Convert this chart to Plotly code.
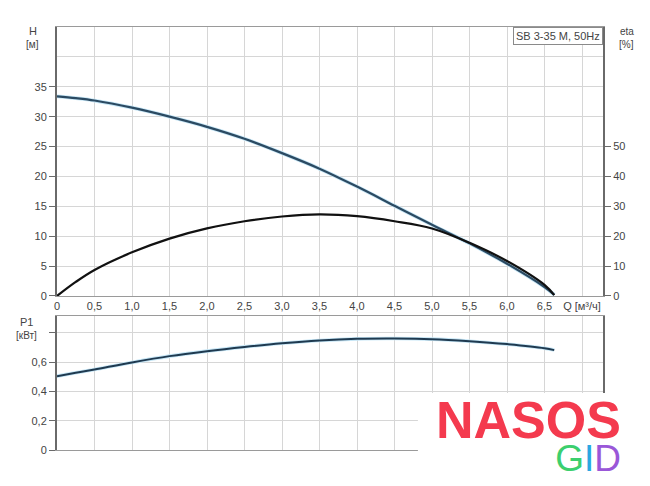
import plotly.graph_objects as go

# ---- data ----
q = [0, 0.25, 0.5, 1.0, 1.5, 2.0, 2.5, 3.0, 3.5, 4.0, 4.5, 5.0, 5.5, 6.0, 6.5, 6.63]
head_m = [33.4, 33.1, 32.7, 31.5, 30.0, 28.3, 26.3, 23.9, 21.3, 18.3, 15.1, 11.9, 8.8, 5.4, 1.5, 0.2]
eta_pct = [0, 4.7, 8.7, 14.6, 19.2, 22.6, 25.0, 26.6, 27.3, 26.7, 25.0, 22.6, 17.8, 11.7, 3.7, 0.3]
p1_kw = [0.504, 0.527, 0.55, 0.598, 0.641, 0.675, 0.704, 0.729, 0.748, 0.759, 0.761, 0.757, 0.743,
         0.723, 0.695, 0.682]

x_tickvals = [0, 0.5, 1.0, 1.5, 2.0, 2.5, 3.0, 3.5, 4.0, 4.5, 5.0, 5.5, 6.0, 6.5, 7.0]
x_ticktext = ["0", "0,5", "1,0", "1,5", "2,0", "2,5", "3,0", "3,5", "4,0", "4,5",
              "5,0", "5,5", "6,0", "6,5", "Q [м³/ч]"]
h_tickvals = [0, 5, 10, 15, 20, 25, 30, 35]
h_ticktext = ["0", "5", "10", "15", "20", "25", "30", "35"]
eta_tickvals = [0, 10, 20, 30, 40, 50]
eta_ticktext = ["0", "10", "20", "30", "40", "50"]
p_tickvals = [0, 0.2, 0.4, 0.6, 0.8]
p_ticktext = ["0", "0,2", "0,4", "0,6", ""]

FONT = "Liberation Sans, Arial, sans-serif"
GRID = "#d6d6d6"
AXIS = "#6a6a6a"
TXT = "#444444"

fig = go.Figure()

# light halo under H curve
fig.add_trace(go.Scatter(x=q, y=head_m, mode="lines", line=dict(color="#c6e6f6", width=3.8, shape="spline"),
                         xaxis="x", yaxis="y", hoverinfo="skip", showlegend=False))
fig.add_trace(go.Scatter(x=q, y=head_m, mode="lines", line=dict(color="#2b4a62", width=2.2, shape="spline"),
                         xaxis="x", yaxis="y", name="H", showlegend=False))
fig.add_trace(go.Scatter(x=q, y=eta_pct, mode="lines", line=dict(color="#111111", width=2.2, shape="spline"),
                         xaxis="x", yaxis="y2", name="eta", showlegend=False))
fig.add_trace(go.Scatter(x=q, y=p1_kw, mode="lines", line=dict(color="#c6e6f6", width=3.6, shape="spline"),
                         xaxis="x2", yaxis="y3", hoverinfo="skip", showlegend=False))
fig.add_trace(go.Scatter(x=q, y=p1_kw, mode="lines", line=dict(color="#1f3a50", width=2, shape="spline"),
                         xaxis="x2", yaxis="y3", name="P1", showlegend=False))

top_dom = [0.3641, 1.0]
bot_dom = [0.0, 0.3168]

fig.update_layout(
    width=650, height=486,
    # page body adds 8px offset; margins compensate so the plot lands where the reference has it
    margin=dict(l=49, r=55, t=19, b=44, autoexpand=False),
    paper_bgcolor="white", plot_bgcolor="white",
    font=dict(family=FONT, size=11, color=TXT),
    showlegend=False,
    xaxis=dict(domain=[0, 1], anchor="y", range=[0, 7.28], tickmode="array",
               tickvals=x_tickvals, ticktext=x_ticktext, ticks="", showgrid=True,
               gridcolor=GRID, gridwidth=1, showline=True, linecolor="#9a9a9a",
               linewidth=1, mirror=True, zeroline=False, automargin=False,
               tickfont=dict(size=11, color=TXT)),
    yaxis=dict(domain=top_dom, anchor="x", range=[0, 45], tickmode="array",
               tickvals=h_tickvals, ticktext=h_ticktext, ticks="outside", ticklen=6,
               tickcolor=AXIS, showgrid=True, gridcolor=GRID, showline=True,
               linecolor=AXIS, linewidth=2, zeroline=False, automargin=False,
               minor=dict(tickmode="array", tickvals=[40], showgrid=True, gridcolor=GRID, ticks=""),
               tickfont=dict(size=11, color=TXT)),
    yaxis2=dict(overlaying="y", anchor="x", side="right", range=[0, 90], tickmode="array",
                tickvals=eta_tickvals, ticktext=eta_ticktext, ticks="outside", ticklen=6,
                tickcolor=AXIS, showgrid=False, showline=True, linecolor=AXIS, linewidth=2,
                zeroline=False, automargin=False, tickfont=dict(size=11, color=TXT)),
    xaxis2=dict(domain=[0, 1], anchor="y3", range=[0, 7.28], tickmode="array",
                tickvals=x_tickvals, showticklabels=False, ticks="", showgrid=True,
                gridcolor=GRID, showline=True, linecolor="#9a9a9a", mirror=True,
                zeroline=False, automargin=False),
    yaxis3=dict(domain=bot_dom, anchor="x2", range=[0, 0.915], tickmode="array",
                tickvals=p_tickvals, ticktext=p_ticktext, ticks="outside", ticklen=6,
                tickcolor=AXIS, showgrid=True, gridcolor=GRID, showline=True,
                linecolor=AXIS, linewidth=2, mirror=True, zeroline=False, automargin=False,
                tickfont=dict(size=11, color=TXT)),
)

# white patch under the watermark logo
fig.add_shape(type="rect", xref="paper", yref="paper", x0=0.661, x1=1.2, y0=-0.2, y1=0.1348,
              fillcolor="white", line=dict(width=0), layer="above")

ann = [
    dict(text="H", x=-0.044, y=0.9905),
    dict(text="[м]", x=-0.044, y=0.9598, size=10),
    dict(text="eta", x=1.0434, y=0.9905, size=10),
    dict(text="[%]", x=1.0434, y=0.9598, size=10),
    dict(text="P1", x=-0.055, y=0.3033),
    dict(text="[кВт]", x=-0.055, y=0.2702, size=10),
]
for a in ann:
    fig.add_annotation(text=a["text"], xref="paper", yref="paper", x=a["x"], y=a["y"],
                       showarrow=False, xanchor="center", yanchor="middle",
                       font=dict(family=FONT, size=a.get("size", 11), color=TXT))

fig.add_annotation(text="SB 3-35 M, 50Hz", xref="paper", yref="paper", x=1.0, y=1.0,
                   xanchor="right", yanchor="top", showarrow=False, bgcolor="white",
                   bordercolor="#8a8a8a", borderwidth=1, borderpad=2,
                   font=dict(family=FONT, size=11, color=TXT))

# watermark logo as one two-line text
logo = ('<span style="font-size:52px;font-weight:bold;fill:#f43a4e">NASOS</span><br>'
        '<span style="font-size:37px;fill:#3ccf6e">G</span>'
        '<span style="font-size:37px;fill:#2aa7e2">I</span>'
        '<span style="font-size:37px;fill:#9a57d8">D</span>')
fig.add_annotation(text=logo, xref="paper", yref="paper", x=1.0366, y=0.0343,
                   xanchor="right", yanchor="middle", align="right", showarrow=False,
                   font=dict(family="Liberation Sans", size=25, color="#f43a4e"))

fig.write_html("out.html")
